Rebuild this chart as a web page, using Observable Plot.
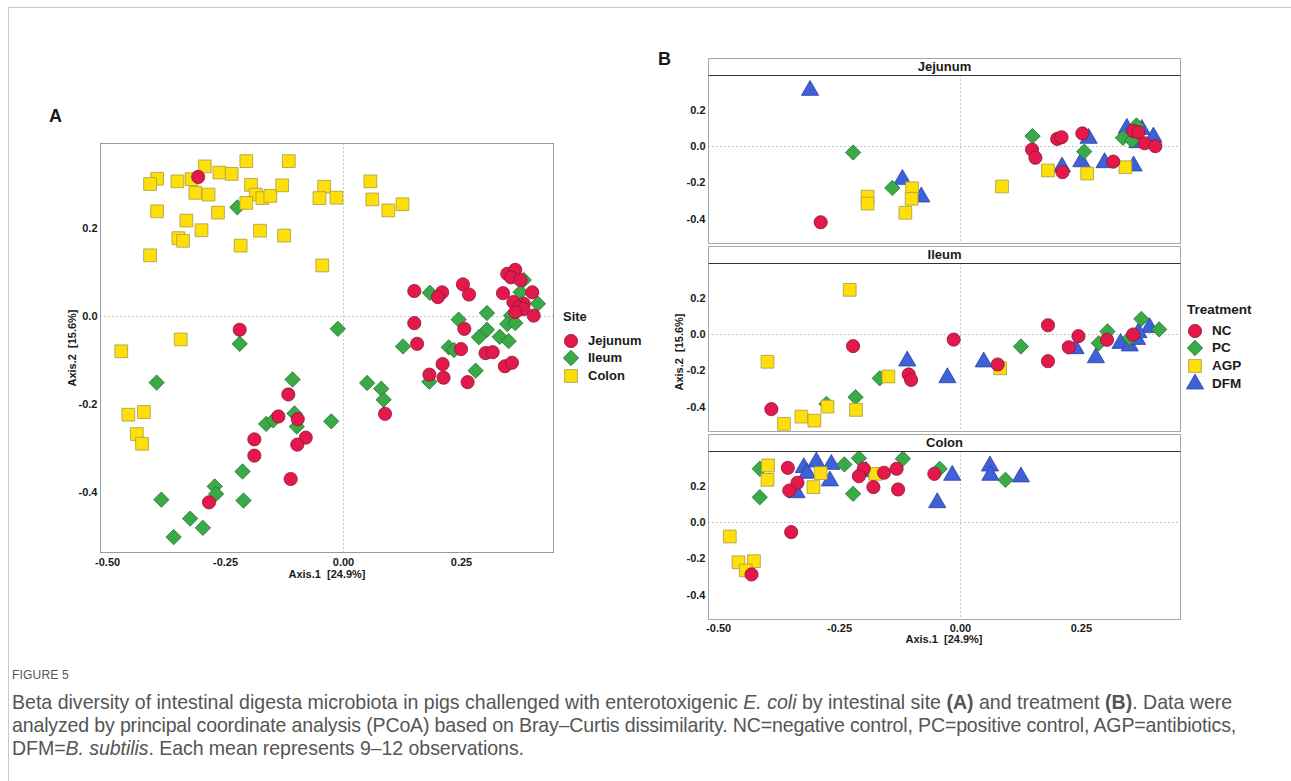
<!DOCTYPE html>
<html><head><meta charset="utf-8">
<script src="https://cdn.jsdelivr.net/npm/d3@7"></script>
<script src="https://cdn.jsdelivr.net/npm/@observablehq/plot@0.6"></script>
<style>
body{margin:0;background:#fff;font-family:"Liberation Sans",Arial,sans-serif;}
#root{position:relative;width:1291px;height:781px;overflow:hidden;background:#fff;}
.abs{position:absolute;}
.b{font-weight:bold;color:#1a1a1a;}
.strip{position:absolute;box-sizing:border-box;border:1px solid #a8a8a8;border-bottom:1.5px solid #333;background:#fff;font-weight:bold;font-size:13px;text-align:center;line-height:15px;color:#1a1a1a;}
.cap{position:absolute;left:12px;white-space:nowrap;color:#555;}
</style></head>
<body><div id="root"></div>
<script>
// ---------- Panel A data: [Axis.1, Axis.2] by intestinal site ----------
const sites = ["Jejunum", "Ileum", "Colon"];
const aJejunum = [[-0.308,0.317],[-0.220,-0.030],[-0.117,-0.177],[-0.138,-0.227],[-0.097,-0.233],[-0.080,-0.275],[-0.098,-0.291],[-0.189,-0.279],[-0.189,-0.316],[-0.112,-0.369],[-0.285,-0.422],
[0.150,0.058],[0.209,0.055],[0.200,0.044],[0.253,0.073],[0.266,0.050],[0.150,-0.015],[0.156,-0.062],[0.256,-0.028],[0.249,-0.074],[0.210,-0.108],[0.182,-0.132],[0.212,-0.139],[0.263,-0.149],[0.301,-0.083],[0.316,-0.081],[0.342,-0.113],[0.357,-0.105],[0.088,-0.221],[0.338,0.053],[0.347,0.097],[0.364,0.106],[0.355,0.089],[0.375,0.083],[0.400,0.055],[0.360,0.033],[0.382,0.029],[0.371,0.021],[0.381,0.017],[0.403,0.002],[0.364,0.010]];
const aIleum = [[-0.225,0.248],[-0.012,-0.028],[-0.220,-0.062],[-0.396,-0.150],[-0.108,-0.143],[-0.104,-0.220],[-0.099,-0.250],[-0.164,-0.244],[-0.149,-0.236],[-0.026,-0.238],[-0.214,-0.352],[-0.273,-0.386],[-0.270,-0.403],[-0.386,-0.416],[-0.212,-0.418],[-0.325,-0.459],[-0.298,-0.480],[-0.360,-0.501],
[0.183,0.054],[0.244,-0.007],[0.304,0.008],[0.304,-0.030],[0.287,-0.047],[0.331,-0.046],[0.350,-0.056],[0.375,0.055],[0.412,0.029],[0.355,0.002],[0.347,-0.017],[0.364,-0.015],[0.126,-0.068],[0.223,-0.070],[0.234,-0.076],[0.182,-0.148],[0.280,-0.123],[0.050,-0.151],[0.080,-0.164],[0.085,-0.189],[0.382,0.083]];
const aColon = [[-0.395,0.313],[-0.410,0.301],[-0.352,0.307],[-0.322,0.312],[-0.294,0.341],[-0.263,0.327],[-0.237,0.324],[-0.206,0.353],[-0.116,0.353],[-0.314,0.281],[-0.286,0.277],[-0.196,0.299],[-0.186,0.277],[-0.172,0.269],[-0.155,0.274],[-0.130,0.298],[-0.206,0.258],[-0.041,0.295],[-0.051,0.269],[-0.015,0.270],[-0.395,0.239],[-0.266,0.236],[-0.333,0.218],[-0.301,0.196],[-0.350,0.178],[-0.340,0.172],[-0.177,0.195],[-0.126,0.184],[-0.218,0.161],[-0.410,0.139],[-0.045,0.116],[0.057,0.307],[0.061,0.266],[0.095,0.241],[0.125,0.255],[-0.345,-0.052],[-0.471,-0.079],[-0.456,-0.223],[-0.423,-0.217],[-0.438,-0.267],[-0.427,-0.289]];

// ---------- Panel B data: by facet (site) and treatment ----------
const treatments = ["NC", "PC", "AGP", "DFM"];
const bJejNC  = [[-0.289,-0.417],[0.148,-0.017],[0.155,-0.062],[0.200,0.042],[0.209,0.051],[0.211,-0.141],[0.252,0.072],[0.316,-0.083],[0.357,0.086],[0.368,0.079],[0.381,0.018],[0.403,0.002]];
const bJejPC  = [[-0.222,-0.033],[-0.141,-0.228],[0.149,0.057],[0.256,-0.028],[0.364,0.116],[0.336,0.048],[0.355,0.033]];
const bJejAGP = [[-0.100,-0.230],[-0.101,-0.288],[-0.192,-0.276],[-0.192,-0.314],[-0.114,-0.365],[0.086,-0.220],[0.181,-0.132],[0.262,-0.149],[0.341,-0.114]];
const bJejDFM = [[-0.311,0.309],[-0.120,-0.181],[-0.081,-0.278],[0.210,-0.113],[0.265,0.045],[0.250,-0.084],[0.298,-0.089],[0.358,-0.107],[0.344,0.100],[0.375,0.094],[0.366,0.021],[0.399,0.052]];
const bIleNC  = [[-0.222,-0.064],[-0.014,-0.028],[0.077,-0.165],[-0.107,-0.220],[-0.102,-0.250],[-0.391,-0.411],[0.181,0.051],[0.181,-0.147],[0.224,-0.070],[0.244,-0.009],[0.303,-0.029],[0.357,0.000]];
const bIlePC  = [[-0.167,-0.241],[-0.217,-0.345],[-0.277,-0.382],[0.125,-0.066],[0.304,0.017],[0.286,-0.048],[0.374,0.086],[0.411,0.028],[0.350,-0.020]];
const bIleAGP = [[-0.229,0.246],[-0.399,-0.150],[0.082,-0.186],[-0.149,-0.231],[-0.216,-0.415],[-0.275,-0.397],[-0.365,-0.492],[-0.329,-0.452],[-0.302,-0.474]];
const bIleDFM = [[-0.110,-0.146],[-0.027,-0.238],[0.048,-0.151],[0.238,-0.078],[0.280,-0.128],[0.331,-0.049],[0.350,-0.063],[0.365,-0.027],[0.391,0.038],[0.368,0.010]];
const bColNC  = [[-0.357,0.301],[-0.337,0.219],[-0.354,0.176],[-0.200,0.296],[-0.210,0.255],[-0.158,0.274],[-0.180,0.195],[-0.132,0.296],[-0.129,0.182],[-0.054,0.268],[-0.350,-0.053],[-0.432,-0.286]];
const bColPC  = [[-0.415,0.296],[-0.415,0.139],[-0.240,0.320],[-0.210,0.354],[-0.222,0.158],[-0.119,0.351],[-0.043,0.296],[0.093,0.235]];
const bColAGP = [[-0.398,0.314],[-0.399,0.235],[-0.289,0.272],[-0.304,0.195],[-0.176,0.268],[-0.477,-0.077],[-0.459,-0.219],[-0.427,-0.213],[-0.444,-0.264]];
const bColDFM = [[-0.339,0.164],[-0.324,0.302],[-0.317,0.271],[-0.298,0.333],[-0.267,0.320],[-0.270,0.229],[-0.195,0.280],[-0.048,0.109],[-0.017,0.260],[0.061,0.311],[0.062,0.260],[0.125,0.251]];

// ---------- tick labels ----------
const xTicks = [-0.50, -0.25, 0.00, 0.25];
const yTicks = [-0.4, -0.2, 0.0, 0.2];
const xTitle = "Axis.1  [24.9%]";
const yTitle = "Axis.2  [15.6%]";

// ---------- styles ----------
const FONT = "'Liberation Sans', Arial, sans-serif";
const sty = {
  red:    {fill: "#E3194B", stroke: "#8e1535", symbol: "circle",   r: 6.6},
  green:  {fill: "#3AA948", stroke: "#23732f", symbol: "diamond2", r: 6.9},
  yellow: {fill: "#FFDF0A", stroke: "#a89a45", symbol: "square",   r: 7.2},
  blue:   {fill: "#3E60D8", stroke: "#28449f", symbol: "triangle", r: 6.4}
};
const siteStyle = {Jejunum: sty.red, Ileum: sty.green, Colon: sty.yellow};
const trtStyle = {NC: sty.red, PC: sty.green, AGP: sty.yellow, DFM: sty.blue};

const root = document.getElementById("root");
function add(html, cls, css) {
  const d = document.createElement("div");
  d.className = cls || "abs";
  d.innerHTML = html;
  Object.assign(d.style, css);
  root.appendChild(d);
  return d;
}
function dots(data, s) {
  return Plot.dot(data, {x: d => d[0], y: d => d[1], symbol: s.symbol, r: s.r,
    fill: s.fill, stroke: s.stroke, strokeWidth: 0.8});
}
const fmtX = d => d.toFixed(2);
const fmtY = d => d.toFixed(1);

// outer figure border
add("", "abs", {left: "8px", top: "7px", width: "1290px", height: "780px", borderLeft: "1px solid #c9c9c9", borderTop: "1px solid #c9c9c9"});

// ---------- Panel A ----------
const chartA = Plot.plot({
  width: 600, height: 600,
  marginLeft: 100, marginRight: 47, marginTop: 143, marginBottom: 48,
  x: {domain: [-0.515, 0.445]},
  y: {domain: [-0.536, 0.393]},
  style: {fontFamily: FONT, fontSize: "11px", fontWeight: "bold", color: "#1a1a1a", background: "transparent", overflow: "visible"},
  marks: [
    Plot.ruleX([0], {stroke: "#c8c8c8", strokeDasharray: "2,2"}),
    Plot.ruleY([0], {stroke: "#c8c8c8", strokeDasharray: "2,2"}),
    Plot.axisX({ticks: xTicks, tickFormat: fmtX, tickSize: 0, tickPadding: 6, label: null}),
    Plot.axisY({ticks: yTicks, tickFormat: fmtY, tickSize: 0, tickPadding: 3, label: null}),
    dots(aIleum, sty.green),
    dots(aColon, sty.yellow),
    dots(aJejunum, sty.red),
    Plot.frame({stroke: "#9a9a9a"})
  ]
});
chartA.style.position = "absolute"; chartA.style.left = "0px"; chartA.style.top = "0px";
root.appendChild(chartA);

add("A", "abs b", {left: "49px", top: "106px", fontSize: "18px"});
add(xTitle, "abs b", {left: "227px", width: "200px", textAlign: "center", top: "568px", fontSize: "11px", whiteSpace: "pre"});
add(yTitle, "abs b", {left: "72px", top: "348px", fontSize: "11px", whiteSpace: "pre", transform: "translate(-50%,-50%) rotate(-90deg)"});

// legend symbol helper
function sym(s, size) {
  const area = Math.PI * s.r * s.r;
  const t = {circle: d3.symbolCircle, diamond2: d3.symbolDiamond2, square: d3.symbolSquare, triangle: d3.symbolTriangle}[s.symbol];
  const p = d3.symbol(t, area)();
  return `<svg width="${size}" height="${size}" viewBox="${-size/2} ${-size/2} ${size} ${size}" style="display:block;overflow:visible"><path d="${p}" fill="${s.fill}" stroke="${s.stroke}" stroke-width="0.8"/></svg>`;
}
function legend(title, keys, styles, x0, yTitleC, ys, symX, txtX, fs) {
  add(title, "abs b", {left: x0 + "px", top: (yTitleC - 8) + "px", fontSize: fs + "px", lineHeight: "16px"});
  keys.forEach((k, i) => {
    add(sym(styles[k], 20), "abs", {left: (symX - 10) + "px", top: (ys[i] - 10) + "px", width: "20px", height: "20px"});
    add(k, "abs b", {left: txtX + "px", top: (ys[i] - 8) + "px", fontSize: fs + "px", lineHeight: "16px"});
  });
}
legend("Site", sites, siteStyle, 563, 317, [341, 358, 376], 571, 588, 13);

// ---------- Panel B ----------
const facets = [
  {name: "Jejunum", top: 58, data: [bJejDFM, bJejPC, bJejAGP, bJejNC]},
  {name: "Ileum",   top: 246, data: [bIleDFM, bIlePC, bIleAGP, bIleNC]},
  {name: "Colon",   top: 434, data: [bColDFM, bColPC, bColAGP, bColNC]}
];
const order = ["DFM", "PC", "AGP", "NC"];
facets.forEach((f, i) => {
  const last = i === facets.length - 1;
  const plotTop = f.top + 17;
  const mb = last ? 30 : 2;
  const ch = Plot.plot({
    width: 585, height: 168 + 2 + mb,
    marginLeft: 108, marginRight: 5, marginTop: 2, marginBottom: mb,
    x: {domain: [-0.521, 0.455]},
    y: {domain: [-0.534, 0.391]},
    style: {fontFamily: FONT, fontSize: "11px", fontWeight: "bold", color: "#1a1a1a", background: "transparent", overflow: "visible"},
    marks: [
      Plot.ruleX([0], {stroke: "#c8c8c8", strokeDasharray: "2,2"}),
      Plot.ruleY([0], {stroke: "#c8c8c8", strokeDasharray: "2,2"}),
      last ? Plot.axisX({ticks: xTicks, tickFormat: fmtX, tickSize: 0, tickPadding: 5, label: null}) : Plot.axisX({ticks: []}),
      Plot.axisY({ticks: yTicks, tickFormat: fmtY, tickSize: 0, tickPadding: 3, label: null}),
      ...f.data.map((d, j) => dots(d, trtStyle[order[j]])),
      Plot.frame({stroke: "#a8a8a8"})
    ]
  });
  ch.style.position = "absolute"; ch.style.left = "600px"; ch.style.top = (plotTop - 2) + "px";
  root.appendChild(ch);
  add(f.name, "strip", {left: "708px", top: f.top + "px", width: "473px", height: "18px"});
});
add("B", "abs b", {left: "658px", top: "49px", fontSize: "18px"});
add(xTitle, "abs b", {left: "844px", width: "200px", textAlign: "center", top: "633px", fontSize: "11px", whiteSpace: "pre"});
add(yTitle, "abs b", {left: "679px", top: "352px", fontSize: "11px", whiteSpace: "pre", transform: "translate(-50%,-50%) rotate(-90deg)"});
legend("Treatment", treatments, trtStyle, 1187, 310, [331, 348, 366, 384], 1195, 1212, 13.5);

// ---------- Caption ----------
add("FIGURE 5", "cap", {top: "668px", fontSize: "12px", letterSpacing: "0.2px"});
const capLines = [
  'Beta diversity of intestinal digesta microbiota in pigs challenged with enterotoxigenic <i>E. coli</i> by intestinal site <b>(A)</b> and treatment <b>(B)</b>. Data were',
  'analyzed by principal coordinate analysis (PCoA) based on Bray–Curtis dissimilarity. NC=negative control, PC=positive control, AGP=antibiotics,',
  'DFM=<i>B. subtilis</i>. Each mean represents 9–12 observations.'
];
const capTargetW = [1221, 1224, 512];
const capEls = capLines.map((t, i) => add(t, "cap", {top: (691 + i * 23) + "px", fontSize: "17px", lineHeight: "23px"}));
const fs = 17 * capTargetW[0] / capEls[0].getBoundingClientRect().width;
capEls.forEach((el, i) => {
  el.style.fontSize = fs.toFixed(2) + "px";
  if (i > 0) {
    const w = el.getBoundingClientRect().width;
    const n = el.textContent.length;
    el.style.letterSpacing = ((capTargetW[i] - w) / n).toFixed(3) + "px";
  }
});
</script></body></html>
